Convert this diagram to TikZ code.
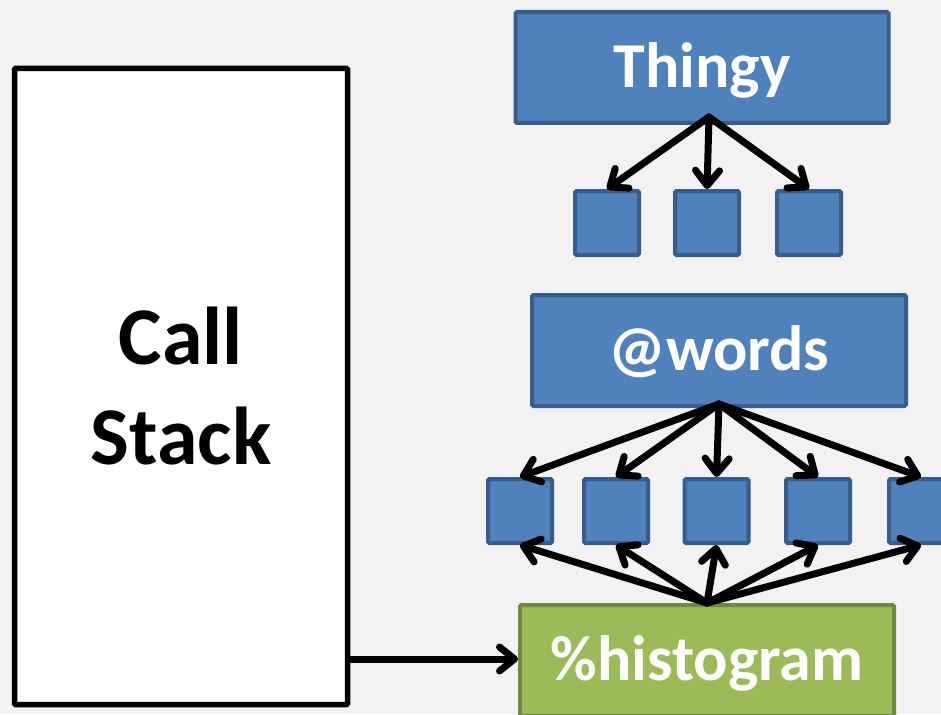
\documentclass[tikz,border=0pt]{standalone}
\usepackage{fontspec}
\setmainfont{Carlito}
\usetikzlibrary{arrows.meta}
\definecolor{bgcol}{HTML}{F2F2F2}
\definecolor{bluefill}{HTML}{4F81BD}
\definecolor{blueedge}{HTML}{385D8A}
\definecolor{greenfill}{HTML}{9BBB59}
\definecolor{greenedge}{HTML}{71893F}
\begin{document}
\begin{tikzpicture}[x=1pt,y=-1pt,
  bigbox/.style={draw=blueedge,fill=bluefill,line width=4pt,rounded corners=1.5pt,
    minimum width=373pt,minimum height=111pt,inner sep=0pt,text=white,
    font=\bfseries\fontsize{64}{77}\selectfont,text height=44pt,text depth=4pt},
  greenbox/.style={bigbox,draw=greenedge,fill=greenfill},
  smallbox/.style={draw=blueedge,fill=bluefill,line width=4pt,rounded corners=1.5pt,
    minimum width=64pt,minimum height=64pt,inner sep=0pt},
  stackbox/.style={draw=black,fill=white,line width=5.5pt,rounded corners=1pt,
    minimum width=333pt,minimum height=636pt,inner sep=0pt,align=center,
    font=\bfseries\fontsize{82}{100}\selectfont},
  arr/.style={line width=7pt,line cap=round,
    -{Straight Barb[round,length=15pt,width=24pt]}}
]
\clip (0,0) rectangle (941,714);
\fill[bgcol] (0,0) rectangle (941,714);

\node[stackbox] (stack) at (181,386.5) {Call\\Stack};

\node[bigbox] (thingy) at (702,67.5) {Thingy};
\node[smallbox] (a1) at (607,223) {};
\node[smallbox] (a2) at (707,223) {};
\node[smallbox] (a3) at (809,223) {};

\node[bigbox,minimum width=374pt] (words) at (719,350.5) {@words};
\node[smallbox] (b1) at (520,511) {};
\node[smallbox] (b2) at (616,511) {};
\node[smallbox] (b3) at (716.5,511) {};
\node[smallbox] (b4) at (818,511) {};
\node[smallbox] (b5) at (921,511) {};

\node[greenbox,minimum width=374pt] (hist) at (707,660.5) {\%histogram};

\coordinate (ta) at (709,117);
\coordinate (wa) at (719,404);
\coordinate (ha) at (707,603);
\coordinate (sa) at (stack.east |- 0,659);

\foreach \b in {a1,a2,a3} \draw[arr] (ta) -- (\b.north);
\foreach \b in {b1,b2,b3,b4,b5} \draw[arr] (wa) -- (\b.north);
\foreach \b in {b1,b2,b3,b4,b5} \draw[arr] (ha) -- (\b.south);
\draw[arr] (sa) -- (sa -| hist.west);
\end{tikzpicture}
\end{document}
